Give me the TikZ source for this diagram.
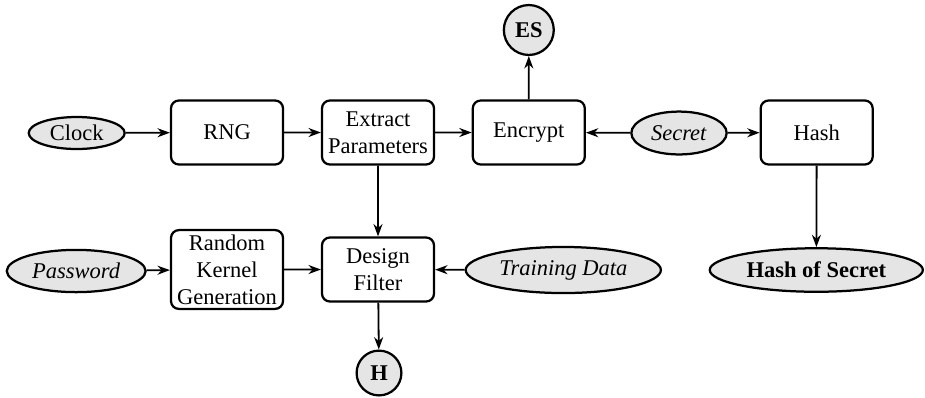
\documentclass[tikz,border=0pt]{standalone}
\usepackage{fontspec}
\setmainfont{Liberation Serif}
\usepackage{tikz}
\usetikzlibrary{arrows.meta,shapes.geometric}

\begin{document}
\begin{tikzpicture}[scale=0.15625]
\tikzstyle{every node}+=[inner sep=2pt, font=\fontsize{10}{12}\selectfont]
\tikzstyle{blk}=[draw=black, line width=1pt, rounded corners=3.5pt, align=center, minimum width=1.75cm, minimum height=1cm]
\tikzstyle{io}=[draw=black, line width=1pt, fill=gray!20, ellipse, inner sep=0pt]
\tikzstyle{term}=[draw=black, line width=1pt, fill=gray!20, circle, inner sep=0pt, font=\fontsize{10}{12}\selectfont\bfseries]
\tikzstyle{arr}=[black, line width=0.8pt, -{Stealth[length=5.5pt,width=4pt]}]
\useasboundingbox (0,0) rectangle (92.5,-39.7);
\node [io, minimum width=1.5cm, minimum height=0.5cm] (clock) at (7.67,-13.3) {Clock};
\node [blk] (rng) at (22.7,-13.25) {RNG};
\node [blk] (extract) at (37.8,-13.25) {Extract\\Parameters};
\node [blk] (encrypt) at (52.88,-13.25) {Encrypt};
\node [term, minimum size=0.78cm] (es) at (52.88,-3.0) {ES};
\node [io, minimum width=1.49cm, minimum height=0.67cm] (secret) at (67.9,-13.3) {\textit{Secret}};
\node [blk] (hash) at (81.67,-13.25) {Hash};
\node [io, minimum width=3.33cm, minimum height=0.68cm, font=\fontsize{10}{12}\selectfont\bfseries] (hashsecret) at (81.63,-27.0) {Hash of Secret};
\node [io, minimum width=3.05cm, minimum height=0.72cm] (training) at (56.33,-27.0) {\textit{Training Data}};
\node [blk] (design) at (37.8,-26.95) {Design\\Filter};
\node [blk] (kernel) at (22.7,-26.95) {Random\\Kernel\\Generation};
\node [io, minimum width=2.17cm, minimum height=0.66cm] (password) at (7.62,-27.1) {\textit{Password}};
\node [term, minimum size=0.70cm] (h) at (37.9,-37.3) {H};
% top row
\draw [arr] (clock) -- (rng);
\draw [arr] (rng) -- (extract);
\draw [arr] (extract) -- (encrypt);
\draw [arr] (encrypt) -- (es);
\draw [arr] (secret) -- (encrypt);
\draw [arr] (secret) -- (hash);
\draw [arr] (hash) -- (hashsecret);
% bottom row
\draw [arr] (extract) -- (design);
\draw [arr] (password) -- (kernel);
\draw [arr] (kernel) -- (design);
\draw [arr] (training) -- (design);
\draw [arr] (design) -- (h);
\end{tikzpicture}
\end{document}
